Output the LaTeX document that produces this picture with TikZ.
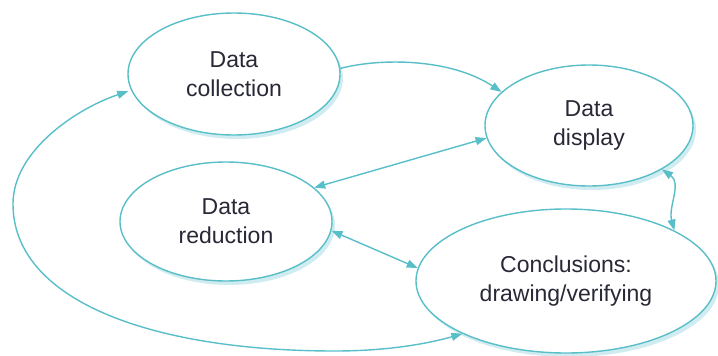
\documentclass[tikz,border=0pt]{standalone}
\usepackage{fontspec}
\setmainfont{Liberation Sans}
\usetikzlibrary{shapes.geometric,arrows.meta,shadows}
\definecolor{tealc}{RGB}{88,190,200}
\definecolor{shadowc}{RGB}{208,236,240}
\definecolor{textc}{RGB}{40,40,55}
\begin{document}
\begin{tikzpicture}[x=1pt,y=1pt,
  stage/.style={ellipse, draw=tealc, line width=1.4pt, fill=white, inner sep=0pt,
    align=center, text=textc, font=\fontsize{23pt}{29pt}\selectfont,
    copy shadow={shadow xshift=3pt, shadow yshift=-4pt, fill=shadowc, draw=none}},
  link/.style={draw=tealc, line width=1.4pt, >={Triangle[length=11pt,width=8pt]}, <->}
]
\useasboundingbox (0,0) rectangle (718,-356);
\node[stage, minimum width=212pt, minimum height=122pt] (coll) at (234,-74) {Data\\collection};
\node[stage, minimum width=208pt, minimum height=121pt] (disp) at (589,-125.5) {Data\\display};
\node[stage, minimum width=212pt, minimum height=119pt] (red) at (226,-221.5) {Data\\reduction};
\node[stage, minimum width=300pt, minimum height=144pt] (conc) at (566,-281) {Conclusions:\\drawing/verifying};
\coordinate (loopL) at (13,-204);
\coordinate (loopB) at (335,-351);
% collection -> display
\draw[link, <-] (disp.159) .. controls (450,-58) and (380,-58) .. (coll.3);
% display <-> reduction
\draw[link] (red.21) -- (disp.187);
% reduction <-> conclusions
\draw[link] (red.355) -- (conc.175);
% display <-> conclusions
\draw[link] (disp.329) to[out=-35, in=105] (conc.25);
% big loop conclusions <-> collection
\draw[link, shorten <=3pt] (coll.189) .. controls (78,-108) and (13,-150) .. (loopL)
  .. controls (13,-300) and (150,-351) .. (loopB)
  .. controls (390,-351) and (430,-343) .. (conc.207);
\end{tikzpicture}
\end{document}
